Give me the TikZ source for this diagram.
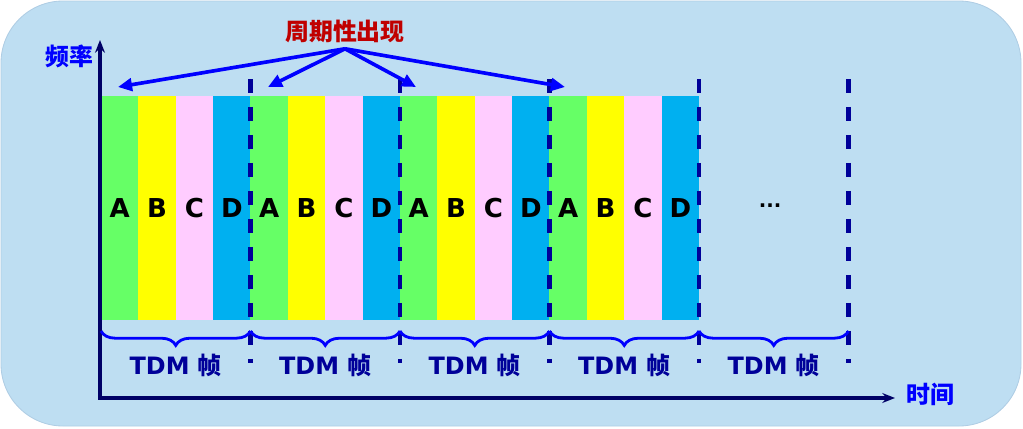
\documentclass[tikz,border=0pt]{standalone}
\usepackage{fontspec}
\setmainfont{DejaVu Sans}
\newfontfamily\cjk{Noto Sans CJK SC}
\usepackage{xcolor}
\usepackage{tikz}
\usetikzlibrary{arrows.meta, positioning, decorations.pathreplacing}

\definecolor{bgblue}{RGB}{190,222,242}
\definecolor{bgedge}{RGB}{175,205,228}
\definecolor{slotA}{RGB}{102,255,102}
\definecolor{slotB}{RGB}{255,255,0}
\definecolor{slotC}{RGB}{255,204,255}
\definecolor{slotD}{RGB}{0,176,240}
\definecolor{framenavy}{RGB}{0,0,153}
\definecolor{axisnavy}{RGB}{0,0,102}
\definecolor{labelblue}{RGB}{0,0,255}
\definecolor{periodred}{RGB}{192,0,0}

\begin{document}
\begin{tikzpicture}[x=0.025cm, y=-0.025cm, font=\bfseries]

% =========================
% Styles
% =========================
\tikzset{
    slot/.style={fill=#1, draw=none, inner sep=0pt, minimum width=0.935cm, minimum height=5.6cm,
        font=\bfseries\fontsize{18.5}{22}\selectfont},
    frameline/.style={draw=framenavy, line width=3.1pt, dash pattern=on 10.1pt off 9.8pt},
    framebrace/.style={draw=labelblue, line width=2pt, decorate,
        decoration={brace, mirror, amplitude=0.36cm, aspect=0.5}},
    axis/.style={draw=axisnavy, line width=2.6pt, {Stealth[length=9pt,width=7pt]}-{Stealth[length=9pt,width=7pt]}},
    period/.style={-{Triangle[length=10pt,width=9pt]}, line width=2.6pt, draw=labelblue},
    axislabel/.style={text=labelblue, font=\cjk\bfseries\fontsize{17}{20}\selectfont},
    tdmlabel/.style={text=framenavy, font=\bfseries\fontsize{17}{20}\selectfont}
}

% =========================
% Background panel
% =========================
\useasboundingbox (0,0) rectangle (1023,428);
\path[fill=bgblue, draw=bgedge, line width=0.6pt, rounded corners=1.55cm] (1,1) rectangle (1021,426);

% =========================
% Time slots A B C D (four frames)
% =========================
\foreach \k in {0,...,3} {
    \foreach \j/\c/\t in {0/slotA/A,1/slotB/B,2/slotC/C,3/slotD/D} {
        \node[slot=\c] (s\k\j) at ({101+149.5*\k+37.375*\j+18.69},208) {\t};
    }
}
\node[font=\bfseries\fontsize{14}{16}\selectfont] (dots) at (770,206) {...};

% =========================
% Axes
% =========================
\coordinate (origin) at (100,398);
\coordinate (ytop) at (100,40);
\coordinate (xend) at (895,398);
\draw[axis] (ytop) -- (origin) -- (xend);
\node[axislabel] (freq) at (69,56) {频率};
\node[axislabel] (time) at (930,394) {时间};

% =========================
% Frame borders and braces
% =========================
\foreach \k in {1,...,5} {
    \coordinate (dt\k) at ({101+149.5*\k},79);
    \coordinate (db\k) at ({101+149.5*\k},363);
    \draw[frameline] (dt\k) -- (db\k);
}
\foreach \k in {0,...,4} {
    \coordinate (bl\k) at ({101+149.5*\k},331);
    \coordinate (br\k) at ({101+149.5*(\k+1)},331);
    \draw[framebrace] (bl\k) -- (br\k);
    \node[tdmlabel] (tdm\k) at ({175.75+149.5*\k},365) {TDM {\cjk 帧}};
}

% =========================
% Periodic arrows
% =========================
\node[text=periodred, font=\cjk\bfseries\fontsize{17}{20}\selectfont] (occur) at (345,31) {周期性出现};
\foreach \i/\x in {1/118,2/268,3/416,4/565} {
    \coordinate (p\i) at (\x,87);
    \draw[period] ([yshift=-1pt]occur.south) -- (p\i);
}

\end{tikzpicture}
\end{document}
